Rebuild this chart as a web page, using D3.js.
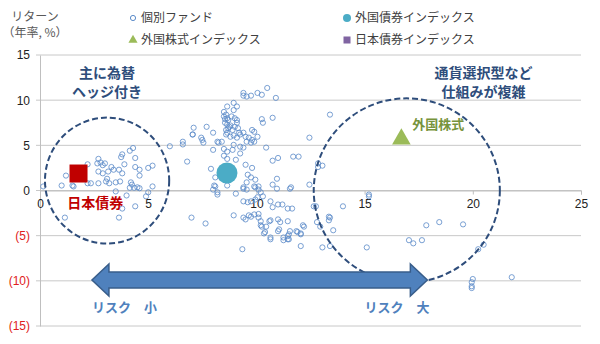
<!DOCTYPE html>
<html>
<head>
<meta charset="utf-8">
<script src="https://cdn.jsdelivr.net/npm/d3@7"></script>
<style>
  body { margin: 0; background: #fff; }
  svg { display: block; font-family: "Noto Sans CJK JP", sans-serif; }
  .axis text { font-family: "Liberation Sans", sans-serif; font-size: 11px; fill: #404040; }
  .axis path, .axis line { stroke: #BFBFBF; }
  .grid line { stroke: #C8C8C8; }
</style>
</head>
<body>
<svg id="chart"></svg>
<script>
// ---- data ----
const xTicks = [0, 5, 10, 15, 20, 25];
const yTicks = [-15, -10, -5, 0, 5, 10, 15];

// individual funds: [risk, return]
const fundPoints = [
  [7.06, 6.2], [6.6, 5.4], [6.6, 5.1], [6.0, 4.9], [6.8, 3.2], [4.3, 4.7], [4.15, 4.4], [3.8, 4.0],
  [3.75, 3.7], [4.4, 3.6], [2.7, 3.5], [2.65, 3.0], [2.8, 3.1], [3.0, 3.0], [2.9, 2.8], [3.3, 2.6],
  [3.4, 2.3], [3.9, 2.9], [4.4, 2.6], [4.6, 2.3], [5.2, 2.75], [5.0, 2.5], [2.2, 2.9], [2.7, 2.1],
  [2.9, 1.9], [3.15, 2.1], [3.1, 1.3], [3.05, 1.0], [3.65, 2.3], [3.8, 1.9], [4.6, 1.65], [1.2, 1.65],
  [2.2, 0.8], [2.35, 0.8], [2.7, 0.8], [1.0, 0.55], [1.5, 0.55], [1.55, 0.45], [3.2, 0.8], [3.5, 0.9],
  [3.7, 1.0], [4.2, 0.9], [4.25, 0.65], [4.15, 0.3], [4.35, 0.3], [4.5, 0.35], [4.6, 0.25], [5.2, 0.45],
  [0.15, 0.45], [3.5, -0.1], [5.0, -0.2], [4.9, -0.65], [4.0, -0.55], [3.8, -2.0], [4.4, -1.75], [3.65, -3.0],
  [1.15, -3.0], [7.0, -3.0], [7.45, 5.85],
  [9.4, 10.8], [9.4, 10.5], [9.55, 10.4], [9.75, 10.5], [10.05, 10.8], [10.25, 10.6], [10.5, 11.35], [10.9, 10.25],
  [8.95, 9.7], [8.65, 9.3], [9.1, 9.3], [8.5, 8.7], [8.6, 8.4], [8.85, 8.2], [8.95, 8.9], [9.0, 8.0],
  [8.65, 8.0], [8.5, 8.2], [8.55, 7.5], [8.65, 7.3], [8.75, 7.05], [8.6, 6.7], [8.65, 6.4], [8.9, 6.7],
  [9.0, 7.05], [9.1, 7.5], [8.6, 6.2], [8.8, 5.95], [9.2, 6.4], [9.1, 5.85], [9.25, 6.2], [9.4, 6.4],
  [10.25, 7.9], [10.3, 7.5], [10.75, 8.05], [9.8, 6.7], [9.9, 6.5], [9.5, 5.95], [9.65, 5.85], [9.8, 5.6],
  [9.9, 5.4], [10.05, 5.95], [9.55, 5.4], [9.75, 5.3], [7.1, 6.95], [7.05, 6.2], [7.7, 7.05], [8.0, 6.4],
  [7.5, 5.6], [7.55, 5.3], [8.2, 5.4], [8.25, 5.3], [8.4, 5.4], [8.0, 4.5], [8.5, 4.6], [8.65, 4.3],
  [8.9, 4.5], [8.95, 5.05], [9.25, 4.85], [9.4, 4.75], [8.5, 3.85], [8.65, 3.5], [9.05, 3.4], [9.25, 4.1],
  [10.45, 4.75], [10.75, 3.3], [11.0, 3.6], [9.5, 2.85], [9.8, 2.5], [9.6, 1.75], [9.75, 1.45], [9.95, 1.2],
  [9.55, 0.9], [7.9, 2.4], [8.1, 1.45], [8.05, 0.55], [8.65, 0.55], [10.95, 1.3], [10.75, 0.65], [9.4, 0.35],
  [9.9, 0.45], [10.1, 0.45], [8.7, 7.8], [8.8, 7.2], [8.7, 6.9], [8.95, 6.1], [8.55, 7.9], [9.1, 7.8],
  [9.15, 6.9],
  [8.0, 0.1], [8.2, -0.2], [9.05, -0.35], [9.4, 0.2], [9.55, 0.1], [9.95, 0.35], [10.1, 0.1], [10.2, -0.2],
  [10.3, -0.65], [10.05, -0.75], [9.95, -1.0], [9.4, -1.2], [9.6, -1.3], [9.75, -1.2], [10.65, -1.2], [11.0, -1.55],
  [11.2, -1.55], [11.45, -2.0], [10.75, -1.85], [8.95, -2.75], [9.4, -3.0], [9.65, -2.75], [9.9, -2.65], [10.1, -3.0],
  [10.2, -3.4], [9.5, -3.2], [7.65, -3.65], [10.65, -3.3], [11.1, -3.5], [11.05, -4.3], [11.45, -3.4], [10.25, -4.0],
  [10.35, -4.75], [10.65, -5.2], [11.25, -5.2], [11.5, -4.85], [9.35, -6.5], [8.1, 0.45], [8.2, -0.45], [9.75, -2.9],
  [10.1, -2.6], [10.2, -3.85], [10.4, -4.6], [10.65, -5.4], [11.0, -3.2], [11.0, -4.5], [11.45, -5.05], [11.5, -5.4],
  [11.25, -5.5], [11.85, -4.5], [12.2, -4.0], [12.05, -4.85], [10.45, -4.0], [10.6, -3.4], [11.6, 0.35], [10.95, 0.2],
  [13.4, 8.4], [12.45, 5.85], [11.7, 3.75], [11.95, 3.75], [12.85, 3.0], [13.05, 2.75], [12.85, 2.6], [11.55, 0.2],
  [12.45, 0.65], [15.2, -0.45], [15.2, -0.65], [11.65, -2.0], [12.65, -1.75], [12.75, -1.75], [14.0, -1.75], [13.35, -2.9],
  [13.4, -3.0], [13.35, -3.3], [12.8, -3.5], [12.95, -4.0], [12.15, -3.85], [13.55, -4.4], [11.55, -4.5], [11.9, -4.6],
  [12.05, -4.75], [11.45, -5.4], [12.05, -6.15], [13.05, -6.3], [13.4, -6.15], [15.1, -6.3],
  [17.85, -3.85], [18.45, -3.5], [19.55, -3.75], [17.05, -5.5], [17.25, -5.85], [17.65, -5.5], [20.25, -6.5], [20.5, -6.0],
  [20.0, -9.8], [19.95, -10.15], [19.95, -10.6], [19.95, -10.8], [21.8, -9.6]
];

// indexes: 外国債券, 外国株式, 日本債券
const indexRisk = [8.64, 16.7, 1.78];
const indexReturn = [1.94, 5.7, 1.88];

const legendLabels = ["個別ファンド", "外国債券インデックス", "外国株式インデックス", "日本債券インデックス"];

class RiskReturnChart {
  constructor(_config) {
    this.config = {
      parentElement: _config.parentElement,
      containerWidth: _config.containerWidth || 600,
      containerHeight: _config.containerHeight || 344,
      margin: _config.margin || { top: 55, right: 19, bottom: 18, left: 40 },
    };
    this.initVis();
  }

  initVis() {
    let vis = this;
    vis.width = vis.config.containerWidth - vis.config.margin.left - vis.config.margin.right;
    vis.height = vis.config.containerHeight - vis.config.margin.top - vis.config.margin.bottom;

    vis.xScale = d3.scaleLinear().domain([0, 25]).range([0, vis.width]);
    vis.yScale = d3.scaleLinear().domain([-15, 15]).range([vis.height, 0]);

    vis.svg = d3.select(vis.config.parentElement)
      .attr("width", vis.config.containerWidth)
      .attr("height", vis.config.containerHeight);

    vis.chart = vis.svg.append("g")
      .attr("transform", `translate(${vis.config.margin.left},${vis.config.margin.top})`);

    vis.renderVis();
  }

  renderVis() {
    let vis = this;
    const x = vis.xScale, y = vis.yScale;

    // gridlines
    vis.chart.append("g").attr("class", "grid")
      .selectAll("line").data(yTicks).join("line")
      .attr("x1", -4).attr("x2", vis.width)
      .attr("y1", d => y(d)).attr("y2", d => y(d));

    // y axis
    const yAxisG = vis.chart.append("g").attr("class", "axis y-axis")
      .call(d3.axisLeft(y).tickValues(yTicks).tickSize(0).tickPadding(10)
        .tickFormat(d => d < 0 ? `(${-d})` : d));
    yAxisG.selectAll("text")
      .style("font-size", "12px")
      .style("fill", d => d < 0 ? "#E02020" : "#222");

    // x axis through zero
    const xAxisG = vis.chart.append("g").attr("class", "axis x-axis")
      .attr("transform", `translate(0,${y(0)})`)
      .call(d3.axisBottom(x).tickValues(xTicks).tickSizeOuter(0).tickSize(4).tickPadding(5));
    xAxisG.selectAll("text").style("font-size", "12px").style("fill", "#222");

    // y axis title
    vis.svg.append("g").selectAll("text")
      .data(["リターン", "（年率, %）"]).join("text")
      .attr("x", 35).attr("y", (d, i) => 21 + i * 16)
      .attr("text-anchor", "middle")
      .style("font-size", "12px").style("fill", "#595959")
      .text(d => d);

    // funds
    vis.chart.append("g").selectAll("circle")
      .data(fundPoints).join("circle")
      .attr("cx", d => x(d[0])).attr("cy", d => y(d[1]))
      .attr("r", 2.6)
      .attr("fill", "none")
      .attr("stroke", "#5B8BC9")
      .attr("stroke-width", 0.9)
      .attr("opacity", 0.9);

    // dashed groupings
    const groups = [
      { cx: 3.1, cy: 1.1, rx: 2.87, ry: 6.97 },
      { cx: 16.95, cy: 0, rx: 4.3, ry: 10.2 }
    ];
    vis.chart.append("g").selectAll("ellipse")
      .data(groups).join("ellipse")
      .attr("cx", d => x(d.cx)).attr("cy", d => y(d.cy))
      .attr("rx", d => x(d.rx) - x(0)).attr("ry", d => y(0) - y(d.ry))
      .attr("fill", "none")
      .attr("stroke", "#2E4D7B")
      .attr("stroke-width", 2)
      .attr("stroke-dasharray", "6,3");

    // index markers
    vis.chart.append("circle")
      .attr("cx", x(indexRisk[0])).attr("cy", y(indexReturn[0]))
      .attr("r", 10.5).attr("fill", "#4BACC6");
    vis.chart.append("path")
      .attr("d", d3.symbol(d3.symbolTriangle, 150)())
      .attr("transform", `translate(${x(indexRisk[1])},${y(indexReturn[1])})`)
      .attr("fill", "#9BBB59");
    vis.chart.append("rect")
      .attr("x", x(indexRisk[2]) - 9).attr("y", y(indexReturn[2]) - 9)
      .attr("width", 18).attr("height", 18)
      .attr("fill", "#C00000");

    // risk arrow
    const ax1 = x(2.4), ax2 = x(17.9), ay = y(-9.9);
    const hl = 17, hh = 16, sh = 8;
    vis.chart.append("path")
      .attr("d", `M${ax1},${ay} L${ax1 + hl},${ay - hh} L${ax1 + hl},${ay - sh} L${ax2 - hl},${ay - sh}
        L${ax2 - hl},${ay - hh} L${ax2},${ay} L${ax2 - hl},${ay + hh} L${ax2 - hl},${ay + sh}
        L${ax1 + hl},${ay + sh} L${ax1 + hl},${ay + hh} Z`)
      .attr("fill", "#4F81BD")
      .attr("stroke", "#385D8A")
      .attr("stroke-width", 1.5);

    // annotations
    const notes = [
      { t: "主に為替", x: 3.1, y: 13.0, c: "#2E4D7B", s: 14 },
      { t: "ヘッジ付き", x: 3.1, y: 10.9, c: "#2E4D7B", s: 14 },
      { t: "通貨選択型など", x: 20.5, y: 13.0, c: "#2E4D7B", s: 14 },
      { t: "仕組みが複雑", x: 20.5, y: 10.9, c: "#2E4D7B", s: 14 },
      { t: "外国株式", x: 18.4, y: 7.35, c: "#77933C", s: 13 },
      { t: "日本債券", x: 2.55, y: -1.4, c: "#C00000", s: 14 },
      { t: "リスク　小", x: 3.9, y: -12.9, c: "#4F81BD", s: 13 },
      { t: "リスク　大", x: 16.5, y: -12.9, c: "#4F81BD", s: 13 }
    ];
    vis.chart.append("g").selectAll("text")
      .data(notes).join("text")
      .attr("x", d => x(d.x)).attr("y", d => y(d.y))
      .attr("dy", "0.36em")
      .attr("text-anchor", "middle")
      .style("font-size", d => d.s + "px")
      .style("font-weight", "bold")
      .style("fill", d => d.c)
      .text(d => d.t);

    // legend
    const legend = vis.svg.append("g");
    const items = [
      { lx: 133, ly: 18 }, { lx: 347, ly: 18 }, { lx: 133, ly: 40 }, { lx: 347, ly: 40 }
    ];
    items.forEach((it, i) => {
      const g = legend.append("g").attr("transform", `translate(${it.lx},${it.ly})`);
      if (i === 0) g.append("circle").attr("r", 2.6).attr("fill", "none").attr("stroke", "#5B8BC9");
      if (i === 1) g.append("circle").attr("r", 4).attr("fill", "#4BACC6");
      if (i === 2) g.append("path").attr("d", d3.symbol(d3.symbolTriangle, 36)()).attr("fill", "#9BBB59");
      if (i === 3) g.append("rect").attr("x", -3.5).attr("y", -3.5).attr("width", 7).attr("height", 7).attr("fill", "#8064A2");
      g.append("text").attr("x", 8).attr("dy", "0.36em")
        .style("font-size", "12px").style("fill", "#404040")
        .text(legendLabels[i]);
    });
  }
}

new RiskReturnChart({ parentElement: "#chart" });
</script>
</body>
</html>
